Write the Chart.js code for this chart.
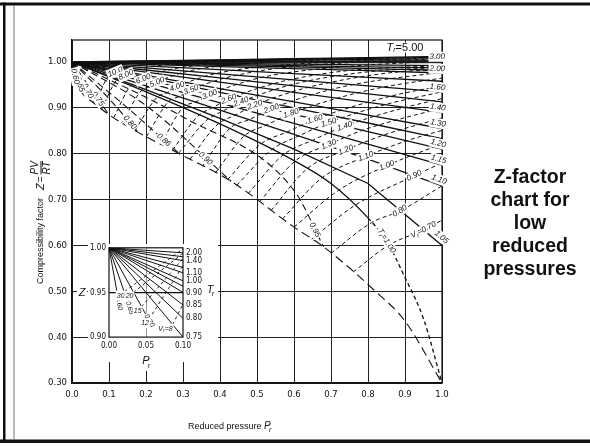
<!DOCTYPE html>
<html>
<head>
<meta charset="utf-8">
<script src="https://cdn.jsdelivr.net/npm/chart.js@4.4.1/dist/chart.umd.min.js"></script>
<style>
  html, body { margin: 0; padding: 0; background: #fff; }
  #page { position: relative; width: 590px; height: 446px; overflow: hidden; }
  #mainChart { position: absolute; left: 0; top: 0; }
  #insetChart { position: absolute; left: 72px; top: 240px; }
  #note {
    position: absolute; left: 476px; top: 165px; width: 108px; text-align: center;
    font: bold 19.5px "Liberation Sans", Arial, sans-serif; line-height: 23px; color: #111;
  }
</style>
</head>
<body>
<div id="page">
  <canvas id="mainChart" width="590" height="446"></canvas>
  <canvas id="insetChart" width="148" height="135"></canvas>
  <div id="note">Z-factor<br>chart for<br>low<br>reduced<br>pressures</div>
</div>
<script>
// axes
const xTicks = [0, 0.1, 0.2, 0.3, 0.4, 0.5, 0.6, 0.7, 0.8, 0.9, 1.0];
const xTickLabels = ['0.0', '0.1', '0.2', '0.3', '0.4', '0.5', '0.6', '0.7', '0.8', '0.9', '1.0'];
const yTicks = [0.3, 0.4, 0.5, 0.6, 0.7, 0.8, 0.9, 1.0];
const yTickLabels = ['0.30', '0.40', '0.50', '0.60', '0.70', '0.80', '0.90', '1.00'];

// isotherms Tr >= 1.05, Z read at these reduced pressures
const prGrid = [0, 0.2, 0.4, 0.6, 0.8, 1.0];
const trNames = ['5.00', '4.00', '3.50', '3.00', '2.60', '2.40', '2.20', '2.00', '1.80', '1.60', '1.50', '1.40', '1.30', '1.25', '1.20', '1.15', '1.10', '1.05'];
const zByTr = [
  [1, 1.0024, 1.0048, 1.0072, 1.0096, 1.012],
  [1, 1.002, 1.004, 1.006, 1.008, 1.010],
  [1, 1.0014, 1.0028, 1.0042, 1.0056, 1.007],
  [1, 1.0006, 1.0012, 1.0018, 1.0024, 1.003],
  [1, 0.9984, 0.9968, 0.9952, 0.9936, 0.992],
  [1, 0.9974, 0.9948, 0.9922, 0.9896, 0.987],
  [1, 0.9964, 0.9928, 0.9892, 0.9856, 0.982],
  [1, 0.995, 0.990, 0.9855, 0.981, 0.976],
  [1, 0.9916, 0.9832, 0.9748, 0.9664, 0.958],
  [1, 0.987, 0.974, 0.961, 0.948, 0.935],
  [1, 0.9826, 0.9652, 0.9478, 0.9304, 0.913],
  [1, 0.978, 0.956, 0.934, 0.912, 0.89],
  [1, 0.971, 0.942, 0.913, 0.884, 0.855],
  [1, 0.967, 0.934, 0.90, 0.867, 0.833],
  [1, 0.962, 0.924, 0.886, 0.848, 0.81],
  [1, 0.956, 0.911, 0.866, 0.821, 0.775],
  [1, 0.948, 0.895, 0.842, 0.788, 0.73],
  [1, 0.94, 0.877, 0.81, 0.735, 0.60]
];
const trEdgeLabels = ['3.00', '2.00', '1.60', '1.40', '1.30', '1.20', '1.15', '1.10', '1.05'];

// critical isotherm Tr = 1.00
const prCrit = [0, 0.2, 0.4, 0.6, 0.7, 0.8, 0.85, 0.9, 0.95, 1.0];
const zCrit = [1, 0.935, 0.865, 0.785, 0.735, 0.66, 0.61, 0.53, 0.44, 0.30];

// saturated vapour curve
const prSat = [0, 0.012, 0.03, 0.06, 0.10, 0.18, 0.29, 0.43, 0.60, 0.68, 0.82, 0.90, 1.0];
const zSat = [1, 0.955, 0.93, 0.91, 0.885, 0.846, 0.80, 0.74, 0.64, 0.597, 0.50, 0.435, 0.30];

// isotherms below Tr = 1, ending on the saturation curve
const subTr = ['0.95', '0.90', '0.86', '0.80', '0.75', '0.70', '0.65', '0.60'];
const subPr = [[0, 0.3, 0.6, 0.68], [0, 0.2, 0.43], [0, 0.15, 0.29], [0, 0.1, 0.18], [0, 0.10], [0, 0.06], [0, 0.03], [0, 0.012]];
const subZ = [[1, 0.88, 0.72, 0.597], [1, 0.905, 0.74], [1, 0.9, 0.80], [1, 0.92, 0.846], [1, 0.885], [1, 0.91], [1, 0.93], [1, 0.955]];

// lines of constant ideal reduced volume V'r (dashed)
const vrNames = ['10.0', '8.00', '6.00', '5.00', '4.00', '3.50', '3.00', '2.60', '2.40', '2.20', '2.00', '1.80', '1.60', '1.50', '1.40', '1.30', '1.20', '1.10', '1.00', '0.90', '0.80', '0.70'];
const vrPr = [
  [0.063, 0.097, 0.107, 0.117, 0.138, 0.158, 0.199, 0.30, 0.503],
  [0.08, 0.12, 0.133, 0.146, 0.172, 0.197, 0.249, 0.375, 0.63],
  [0.113, 0.158, 0.175, 0.193, 0.228, 0.262, 0.331, 0.501, 0.842],
  [0.135, 0.188, 0.208, 0.23, 0.272, 0.314, 0.396, 0.601, 1.0],
  [0.17, 0.231, 0.257, 0.284, 0.337, 0.39, 0.494, 0.752, 1.0],
  [0.201, 0.261, 0.291, 0.322, 0.383, 0.444, 0.564, 0.859, 1.0],
  [0.24, 0.30, 0.335, 0.372, 0.444, 0.516, 0.656, 1.0],
  [0.272, 0.339, 0.381, 0.424, 0.508, 0.592, 0.755, 1.0],
  [0.288, 0.364, 0.41, 0.457, 0.548, 0.639, 0.817, 1.0],
  [0.319, 0.392, 0.443, 0.494, 0.595, 0.694, 0.89, 1.0],
  [0.353, 0.426, 0.481, 0.539, 0.65, 0.761, 1.0],
  [0.387, 0.466, 0.527, 0.592, 0.717, 0.84, 1.0],
  [0.421, 0.51, 0.583, 0.657, 0.798, 0.939, 1.0],
  [0.445, 0.54, 0.616, 0.694, 0.846, 1.0],
  [0.476, 0.57, 0.652, 0.737, 0.901, 1.0],
  [0.507, 0.603, 0.694, 0.785, 1.0],
  [0.538, 0.635, 0.74, 0.84, 1.0],
  [0.569, 0.675, 0.794, 0.904, 1.0],
  [0.60, 0.72, 0.851, 0.977, 1.0],
  [0.648, 0.764, 0.925, 1.0],
  [0.70, 0.81, 0.886, 1.0],
  [0.76, 0.855, 0.95, 1.0]
];
const vrZ = [
  [0.908, 0.968, 0.972, 0.978, 0.985, 0.990, 0.995, 1.001, 1.006],
  [0.897, 0.96, 0.966, 0.972, 0.981, 0.987, 0.994, 1.001, 1.008],
  [0.879, 0.948, 0.955, 0.963, 0.975, 0.983, 0.992, 1.002, 1.01],
  [0.868, 0.938, 0.946, 0.956, 0.970, 0.980, 0.991, 1.002, 1.011],
  [0.851, 0.924, 0.933, 0.946, 0.963, 0.975, 0.988, 1.002, 1.010],
  [0.837, 0.914, 0.925, 0.939, 0.958, 0.971, 0.987, 1.003, 1.007],
  [0.821, 0.901, 0.913, 0.929, 0.951, 0.967, 0.984, 1.003],
  [0.808, 0.881, 0.901, 0.919, 0.944, 0.962, 0.982, 0.992],
  [0.801, 0.873, 0.894, 0.913, 0.940, 0.959, 0.980, 0.988],
  [0.788, 0.863, 0.885, 0.906, 0.935, 0.955, 0.979, 0.982],
  [0.773, 0.855, 0.875, 0.898, 0.929, 0.951, 0.978],
  [0.758, 0.839, 0.863, 0.888, 0.921, 0.945, 0.965],
  [0.744, 0.821, 0.848, 0.875, 0.912, 0.939, 0.946],
  [0.731, 0.809, 0.84, 0.868, 0.907, 0.935],
  [0.713, 0.797, 0.83, 0.86, 0.901, 0.92],
  [0.695, 0.784, 0.82, 0.851, 0.90],
  [0.676, 0.767, 0.808, 0.84, 0.878],
  [0.658, 0.747, 0.794, 0.828, 0.851],
  [0.64, 0.72, 0.774, 0.814, 0.82],
  [0.614, 0.687, 0.752, 0.78],
  [0.583, 0.65, 0.675, 0.73],
  [0.542, 0.60, 0.634, 0.655]
];

// inset: 0 < Pr < 0.10
const insetXTicks = [0, 0.05, 0.10];
const insetXLabels = ['0.00', '0.05', '0.10'];
const insetYTicks = [0.90, 0.95, 1.00];
const insetYLabels = ['0.90', '0.95', '1.00'];
const insetPr = [0, 0.10];
const insetTr = ['2.00', '1.60', '1.40', '1.20', '1.10', '1.00', '0.95', '0.90', '0.85', '0.80', '0.75'];
const insetZ = [[1, 0.9944], [1, 0.990], [1, 0.9856], [1, 0.978], [1, 0.972], [1, 0.963], [1, 0.957], [1, 0.95], [1, 0.936], [1, 0.921], [1, 0.90]];
const insetEdgeLabels = ['2.00', '1.40', '1.10', '1.00', '0.90', '0.85', '0.80', '0.75'];
const insetSubTr = ['0.70', '0.65', '0.60'];
const insetSubPr = [[0, 0.05], [0, 0.025], [0, 0.012]];
const insetSubZ = [[1, 0.925], [1, 0.94], [1, 0.945]];
const insetVr = ['30', '20', '15', '12', '8'];
const insetVrPr = [[0.021, 0.1], [0.033, 0.1], [0.044, 0.1], [0.054, 0.1], [0.086, 0.1]];
const insetVrZ = [[0.951, 0.999], [0.95, 0.994], [0.934, 0.988], [0.92, 0.98], [0.914, 0.937]];

const INK = '#111';
const FONT = '"Liberation Sans", Arial, sans-serif';
const NARROW = '"Liberation Sans Narrow", "DejaVu Sans Condensed", "Liberation Sans", Arial, sans-serif';
Chart.defaults.font.family = FONT;
Chart.defaults.color = INK;

function pts(xs, ys) {
  return xs.map((x, i) => ({ x: x, y: ys[i] }));
}

function line(label, xs, ys, extra) {
  return Object.assign({
    label: label,
    data: pts(xs, ys),
    showLine: true,
    pointRadius: 0,
    borderColor: INK,
    borderWidth: 1.3,
    fill: false
  }, extra || {});
}

// text on a line, turned to its slope, with a white patch behind it
function tag(c, parts, x, y, ang, dy, align) {
  c.save();
  c.translate(x, y);
  c.rotate(ang);
  let w = 0;
  parts.forEach(p => { c.font = p.font; w += c.measureText(p.t).width; });
  let left = align === 'right' ? -w : (align === 'left' ? 0 : -w / 2);
  c.fillStyle = '#fff';
  c.fillRect(left - 1, dy - 5, w + 2, 10);
  c.fillStyle = INK;
  c.textAlign = 'left';
  c.textBaseline = 'middle';
  parts.forEach(p => {
    c.font = p.font;
    c.fillText(p.t, left, dy + (p.sub ? 2.5 : 0));
    left += c.measureText(p.t).width;
  });
  c.restore();
}

const LBL = 'italic 8px ' + FONT;
const SUB = 'italic 6px ' + FONT;

const datasets = [];
trNames.forEach((name, i) => datasets.push(line('Tr ' + name, prGrid, zByTr[i])));
datasets.push(line('Tr 1.00', prCrit, zCrit, {
  cubicInterpolationMode: 'monotone',
  segment: { borderDash: s => s.p0.parsed.x >= 0.8 ? [4, 3] : undefined }
}));
subTr.forEach((name, i) => datasets.push(line('Tr ' + name, subPr[i], subZ[i], {
  borderDash: [7, 4], borderWidth: 1.1, cubicInterpolationMode: 'monotone'
})));
datasets.push(line('saturation', prSat, zSat, { borderDash: [9, 5], borderWidth: 1.1, cubicInterpolationMode: 'monotone' }));
vrNames.forEach((name, i) => datasets.push(line('Vr ' + name, vrPr[i], vrZ[i], {
  borderDash: [4, 3], borderWidth: 1, cubicInterpolationMode: 'monotone'
})));

const mainMarks = {
  id: 'mainMarks',
  beforeDraw(chart) {
    const c = chart.ctx;
    c.save();
    c.fillStyle = '#fff';
    c.fillRect(0, 0, chart.width, chart.height);
    c.fillStyle = INK;
    c.fillRect(0, 2.5, chart.width, 3);
    c.fillRect(3, 2.5, 2.5, 440);
    c.fillRect(0, 439.5, chart.width, 3.5);
    c.fillStyle = '#777';
    c.fillRect(13.5, 5, 1, 435);
    c.restore();
  },
  afterDatasetsDraw(chart) {
    const c = chart.ctx, a = chart.chartArea;
    const X = v => chart.scales.x.getPixelForValue(v);
    const Y = v => chart.scales.y.getPixelForValue(v);
    c.save();
    c.strokeStyle = INK;
    c.lineWidth = 1.2;
    c.strokeRect(a.left, a.top, a.right - a.left, a.bottom - a.top);

    // Tr labels at the right edge
    trNames.forEach((name, i) => {
      if (!trEdgeLabels.includes(name)) return;
      const z = zByTr[i], n = z.length - 1;
      const ang = Math.atan2(Y(z[n]) - Y(z[n - 1]), X(prGrid[n]) - X(prGrid[n - 1]));
      tag(c, [{ t: name, font: LBL }], X(prGrid[n]) + 3, Y(z[n]), ang, -4, 'right');
    });
    const z5 = zByTr[0];
    tag(c, [{ t: 'T', font: 'italic 11px ' + FONT }, { t: 'r', font: 'italic 7px ' + FONT, sub: true }, { t: '=5.00', font: '11px ' + FONT }],
      X(0.9), Y(z5[4]), 0, -10, 'center');

    // V'r labels on the dashed lines
    vrNames.forEach((name, i) => {
      const xs = vrPr[i], zs = vrZ[i];
      const k = xs.length <= 5 ? 2 : 3;
      const ang = Math.atan2(Y(zs[k + 1]) - Y(zs[k]), X(xs[k + 1]) - X(xs[k]));
      const parts = i === vrNames.length - 1
        ? [{ t: 'V', font: LBL }, { t: 'r', font: SUB, sub: true }, { t: '=' + name, font: LBL }]
        : [{ t: name, font: LBL }];
      tag(c, parts, X(xs[k]), Y(zs[k]), ang, 0, 'center');
    });

    // labels of the isotherms below the critical one
    subTr.forEach((name, i) => {
      const xs = subPr[i], zs = subZ[i], n = xs.length - 1;
      const px = X(xs[n - 1]) + 0.7 * (X(xs[n]) - X(xs[n - 1]));
      const py = Y(zs[n - 1]) + 0.7 * (Y(zs[n]) - Y(zs[n - 1]));
      const ang = Math.atan2(Y(zs[n]) - Y(zs[n - 1]), X(xs[n]) - X(xs[n - 1]));
      tag(c, [{ t: name, font: LBL }], px, py, ang, 0, 'center');
    });

    // critical isotherm label
    const angC = Math.atan2(Y(zCrit[7]) - Y(zCrit[5]), X(prCrit[7]) - X(prCrit[5]));
    tag(c, [{ t: 'T', font: LBL }, { t: 'r', font: SUB, sub: true }, { t: '=1.00', font: LBL }],
      X(prCrit[6]), Y(zCrit[6]), angC, 0, 'center');
    c.restore();
  },
  afterDraw(chart) {
    const c = chart.ctx;
    c.save();
    c.fillStyle = INK;
    // y title
    c.translate(41, 284);
    c.rotate(-Math.PI / 2);
    c.textBaseline = 'middle';
    c.textAlign = 'left';
    c.font = '9px ' + FONT;
    const t1 = 'Compressibility factor';
    c.fillText(t1, 0, 0);
    let x = c.measureText(t1).width + 8;
    c.font = 'italic 11px ' + FONT;
    c.fillText('Z', x, 0);
    x += c.measureText('Z').width + 1;
    c.font = '10px ' + FONT;
    c.fillText('=', x, 0);
    x += c.measureText('=').width + 2;
    c.font = 'italic 10px ' + FONT;
    const wf = Math.max(c.measureText('PV').width, c.measureText('RT').width);
    c.fillText('PV', x, -6);
    c.fillText('RT', x, 6);
    c.fillRect(x, -0.5, wf, 1);
    c.restore();

    // x title
    c.save();
    c.fillStyle = INK;
    c.textBaseline = 'alphabetic';
    c.textAlign = 'left';
    c.font = '9px ' + FONT;
    const t2 = 'Reduced pressure ';
    const w2 = c.measureText(t2).width;
    const x0 = 231 - (w2 + 10) / 2;
    c.fillText(t2, x0, 429);
    c.font = 'italic 10px ' + FONT;
    c.fillText('P', x0 + w2, 429);
    c.font = 'italic 7px ' + FONT;
    c.fillText('r', x0 + w2 + 5, 432);
    c.restore();
  }
};

new Chart(document.getElementById('mainChart'), {
  type: 'scatter',
  data: { datasets: datasets },
  options: {
    responsive: false,
    animation: false,
    events: [],
    layout: { padding: { left: 10, right: 148, top: 40, bottom: 0 } },
    plugins: { legend: { display: false }, tooltip: { enabled: false } },
    scales: {
      x: {
        type: 'linear', min: 0, max: 1.0,
        afterBuildTicks: s => { s.ticks = xTicks.map(v => ({ value: v })); },
        afterFit: s => { s.height = 63; },
        ticks: { callback: (v, i) => xTickLabels[i], padding: 6, autoSkip: false, maxRotation: 0, font: { size: 9.5, family: NARROW }, color: INK },
        grid: { color: '#222', lineWidth: 1, drawTicks: false },
        border: { display: true, color: INK, width: 1.2 }
      },
      y: {
        type: 'linear', min: 0.30, max: 1.048,
        afterBuildTicks: s => { s.ticks = yTicks.map(v => ({ value: v })); },
        afterFit: s => { s.width = 62; },
        ticks: { callback: (v, i) => yTickLabels[i], padding: 5, autoSkip: false, font: { size: 9.5, family: NARROW }, color: INK },
        grid: { color: '#222', lineWidth: t => (t.tick && Math.abs(t.tick.value - 1) < 1e-6 ? 2.2 : 1), drawTicks: false },
        border: { display: true, color: INK, width: 1.2 }
      }
    }
  },
  plugins: [mainMarks]
});

// inset chart
const insetSets = [];
insetTr.forEach((name, i) => insetSets.push(line('Tr ' + name, insetPr, insetZ[i], { borderWidth: 1 })));
insetSubTr.forEach((name, i) => insetSets.push(line('Tr ' + name, insetSubPr[i], insetSubZ[i], { borderWidth: 1 })));
insetVr.forEach((name, i) => insetSets.push(line('Vr ' + name, insetVrPr[i], insetVrZ[i], { borderWidth: 0.9, borderDash: [3, 3] })));

const insetMarks = {
  id: 'insetMarks',
  beforeDraw(chart) {
    const c = chart.ctx;
    c.save();
    c.fillStyle = '#fff';
    c.fillRect(16, 4, 130, 118);
    c.fillRect(5, 45, 10, 13);
    c.restore();
  },
  afterDatasetsDraw(chart) {
    const c = chart.ctx, a = chart.chartArea;
    const X = v => chart.scales.x.getPixelForValue(v);
    const Y = v => chart.scales.y.getPixelForValue(v);
    c.save();
    c.strokeStyle = INK;
    c.lineWidth = 1.2;
    c.strokeRect(a.left, a.top, a.right - a.left, a.bottom - a.top);
    c.fillStyle = INK;
    c.font = '8px ' + NARROW;
    c.textBaseline = 'middle';
    c.textAlign = 'left';
    insetTr.forEach((name, i) => {
      if (!insetEdgeLabels.includes(name)) return;
      c.fillText(name, a.right + 3, Y(insetZ[i][1]));
    });
    const sl = 'italic 7px ' + FONT;
    insetSubTr.forEach((name, i) => {
      const xs = insetSubPr[i], zs = insetSubZ[i];
      const ang = Math.atan2(Y(zs[1]) - Y(zs[0]), X(xs[1]) - X(xs[0]));
      tag(c, [{ t: name, font: sl }], X(xs[1]), Y(zs[1]), ang, 0, 'left');
    });
    insetVr.forEach((name, i) => {
      const xs = insetVrPr[i], zs = insetVrZ[i];
      const parts = i === insetVr.length - 1
        ? [{ t: 'V', font: sl }, { t: 'r', font: 'italic 5px ' + FONT, sub: true }, { t: '=' + name, font: sl }]
        : [{ t: name, font: sl }];
      tag(c, parts, X(xs[0]), Y(zs[0]), 0, 4, 'right');
    });
    c.font = 'italic 11px ' + FONT;
    c.textAlign = 'center';
    c.fillText('Z', 10, Y(0.95));
    c.fillText('T', a.right + 27, Y(0.95) - 3);
    c.font = 'italic 7px ' + FONT;
    c.fillText('r', a.right + 30, Y(0.95) + 2);
    c.fillStyle = '#fff';
    c.fillRect(X(0.05) - 6, 116, 12, 15);
    c.fillStyle = INK;
    c.font = 'italic 11px ' + FONT;
    c.fillText('P', X(0.05), 121);
    c.font = 'italic 7px ' + FONT;
    c.fillText('r', X(0.05) + 3, 126);
    c.restore();
  }
};

new Chart(document.getElementById('insetChart'), {
  type: 'scatter',
  data: { datasets: insetSets },
  options: {
    responsive: false,
    animation: false,
    events: [],
    layout: { padding: { left: 15, right: 37, top: 5.4, bottom: 0 } },
    plugins: { legend: { display: false }, tooltip: { enabled: false } },
    scales: {
      x: {
        type: 'linear', min: 0, max: 0.10,
        afterBuildTicks: s => { s.ticks = insetXTicks.map(v => ({ value: v })); },
        afterFit: s => { s.height = 37.9; },
        ticks: { callback: (v, i) => insetXLabels[i], padding: 4, autoSkip: false, maxRotation: 0, font: { size: 8, family: NARROW }, color: INK },
        grid: { color: t => (t.tick && Math.abs(t.tick.value - 0.05) < 1e-6 ? '#999' : 'rgba(0,0,0,0)'), lineWidth: 1, drawTicks: false },
        border: { display: false }
      },
      y: {
        type: 'linear', min: 0.90, max: 1.00,
        afterBuildTicks: s => { s.ticks = insetYTicks.map(v => ({ value: v })); },
        afterFit: s => { s.width = 22; },
        ticks: { callback: (v, i) => insetYLabels[i], padding: 3, autoSkip: false, font: { size: 8, family: NARROW }, color: INK },
        grid: { color: t => (t.tick && Math.abs(t.tick.value - 0.95) < 1e-6 ? INK : 'rgba(0,0,0,0)'), lineWidth: 1.2, drawTicks: false },
        border: { display: false }
      }
    }
  },
  plugins: [insetMarks]
});
</script>
</body>
</html>
